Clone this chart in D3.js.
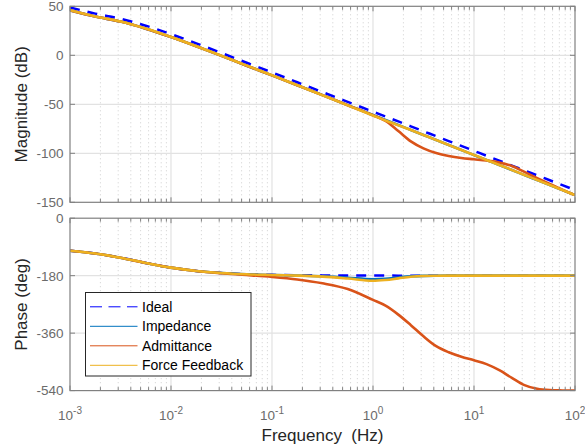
<!DOCTYPE html>
<html><head><meta charset="utf-8">
<script src="https://cdn.jsdelivr.net/npm/d3@7"></script>
<style>
body{margin:0;background:#fff}
svg{display:block}
text{font-family:"Liberation Sans",Arial,Helvetica,sans-serif}
</style>
</head><body>
<svg id="chart" width="585" height="448"></svg>
<script>
// ---------- data ----------
const freqs = [0.001, 0.00178, 0.00316, 0.00562, 0.01, 0.0178, 0.0316, 0.0562, 0.1, 0.178, 0.316, 0.562,
  1, 1.33, 1.78, 2.37, 3.16, 4.22, 5.62, 7.5, 10, 13.3, 17.8, 23.7, 31.6, 42.2, 56.2, 75, 100];

const magIdeal = [48.9, 42.5, 37.4, 30.2, 21.6, 12.2, 2.4, -7.6, -17.5, -27.5, -37.5, -47.5,
  -57.5, -62.5, -67.5, -72.5, -77.5, -82.5, -87.5, -92.5, -97.5, -102.5, -107.5, -112.5, -117.5, -122.5, -127.5, -132.5, -137.5];
const magImpedance = [45.9, 39.5, 34.4, 27.2, 18.6, 9.2, -0.6, -10.6, -20.5, -30.5, -40.6, -50.8,
  -61.0, -66.1, -71.1, -76.2, -81.3, -86.4, -91.5, -96.7, -101.8, -106.9, -112.0, -117.1, -122.3, -127.4, -132.5, -137.6, -142.7];
const magAdmittance = [45.9, 39.5, 34.4, 27.2, 18.6, 9.2, -0.6, -10.6, -20.5, -30.5, -40.6, -50.9,
  -61.2, -67.0, -77.3, -87.8, -95.0, -99.8, -102.8, -104.8, -106.1, -107.4, -109.3, -113.0, -119.0, -125.3, -131.3, -137.2, -142.7];
const magForce = [46.0, 39.6, 34.5, 27.3, 18.7, 9.3, -0.5, -10.5, -20.4, -30.5, -40.7, -51.1,
  -61.4, -66.5, -71.4, -76.3, -81.3, -86.4, -91.5, -96.6, -101.7, -106.8, -111.9, -117.0, -122.2, -127.3, -132.4, -137.5, -142.6];

const phaseIdeal = [-102.0, -110.7, -123.9, -140.1, -154.8, -165.2, -171.5, -175.2, -177.3, -178.5, -179.1, -179.5,
  -179.7, -179.8, -179.9, -180, -180, -180, -180, -180, -180, -180, -180, -180, -180, -180, -180, -180, -180];
const phaseImpedance = [-102.0, -110.7, -123.9, -140.1, -154.8, -165.3, -171.7, -175.6, -178.0, -179.5, -182.0, -186.5,
  -191.0, -189.5, -185.5, -182.0, -180.5, -180.1, -180, -180, -180, -180, -180, -180, -180, -180, -180, -180, -180];
const phaseAdmittance = [-102.0, -110.7, -123.9, -140.1, -154.9, -165.6, -172.6, -178.0, -184.0, -192.0, -204.0, -222.0,
  -256.0, -274.0, -302.0, -335.0, -370.0, -401.0, -420.0, -434.0, -445.0, -457.0, -476.0, -500.0, -523.0, -534.5, -538.5, -539.5, -540.0];
const phaseForce = [-102.0, -110.7, -123.9, -140.1, -154.8, -165.3, -171.7, -175.6, -177.8, -179.8, -183.0, -189.0,
  -196.0, -193.5, -188.5, -183.5, -181.0, -180.3, -180, -180, -180, -180, -180, -180, -180, -180, -180, -180, -180];

const seriesNames = ["Ideal", "Impedance", "Admittance", "Force Feedback"];
const seriesColors = ["#0000ff", "#0072bd", "#d95319", "#edb120"];
const magSeries = [magIdeal, magImpedance, magAdmittance, magForce];
const phaseSeries = [phaseIdeal, phaseImpedance, phaseAdmittance, phaseForce];

const xTickExponents = [-3, -2, -1, 0, 1, 2];
const magTicks = [50, 0, -50, -100, -150];
const phaseTicks = [0, -180, -360, -540];
const xLabel = "Frequency  (Hz)";
const magLabel = "Magnitude (dB)";
const phaseLabel = "Phase (deg)";

// ---------- layout ----------
const svg = d3.select("#chart");
const L = 70, R = 575;
const x = d3.scaleLog().domain([1e-3, 1e2]).range([L, R]);
const panels = [
  {top: 6.3, bottom: 202.3, domain: [-150, 50], ticks: magTicks, series: magSeries, label: magLabel, xLabels: false},
  {top: 218.2, bottom: 390.6, domain: [-540, 0], ticks: phaseTicks, series: phaseSeries, label: phaseLabel, xLabels: true}
];

const tickColor = "#6b6b6b";
const boxColor = "#808080";

panels.forEach((p, pi) => {
  const y = d3.scaleLinear().domain(p.domain).range([p.bottom, p.top]);
  const g = svg.append("g");

  // clip
  const cid = "clip" + pi;
  svg.append("defs").append("clipPath").attr("id", cid)
    .append("rect").attr("x", L).attr("y", p.top).attr("width", R - L).attr("height", p.bottom - p.top);

  // minor grid
  const minors = [];
  for (let d = -3; d < 2; d++) for (let k = 2; k <= 9; k++) minors.push(k * Math.pow(10, d));
  g.append("g").selectAll("line").data(minors).join("line")
    .attr("x1", d => x(d)).attr("x2", d => x(d)).attr("y1", p.top).attr("y2", p.bottom)
    .attr("stroke", "#cfcfcf").attr("stroke-width", 1).attr("stroke-dasharray", "1,3");
  // major grid
  const majors = xTickExponents.slice(1, -1).map(e => Math.pow(10, e));
  g.append("g").selectAll("line").data(majors).join("line")
    .attr("x1", d => x(d)).attr("x2", d => x(d)).attr("y1", p.top).attr("y2", p.bottom)
    .attr("stroke", "#e2e2e2").attr("stroke-width", 1.2);
  g.append("g").selectAll("line").data(p.ticks.filter(t => t !== p.domain[0] && t !== p.domain[1])).join("line")
    .attr("x1", L).attr("x2", R).attr("y1", d => y(d)).attr("y2", d => y(d))
    .attr("stroke", "#e2e2e2").attr("stroke-width", 1.2);

  // curves
  const line = d3.line().x((d, i) => x(freqs[i])).y(d => y(d)).curve(d3.curveMonotoneX);
  const cg = g.append("g").attr("clip-path", `url(#${cid})`);
  p.series.forEach((s, si) => {
    cg.append("path").datum(s).attr("d", line).attr("fill", "none")
      .attr("stroke", seriesColors[si])
      .attr("stroke-width", si === 0 ? 2.5 : 2.6)
      .attr("stroke-dasharray", si === 0 ? "10,8" : null)
      .attr("stroke-linejoin", "round");
  });

  // box
  g.append("rect").attr("x", L).attr("y", p.top).attr("width", R - L).attr("height", p.bottom - p.top)
    .attr("fill", "none").attr("stroke", boxColor).attr("stroke-width", 1.2);

  // x ticks (inside, bottom & top)
  const tk = g.append("g").attr("stroke", boxColor).attr("stroke-width", 1);
  minors.forEach(m => {
    tk.append("line").attr("x1", x(m)).attr("x2", x(m)).attr("y1", p.bottom).attr("y2", p.bottom - 3.5);
    tk.append("line").attr("x1", x(m)).attr("x2", x(m)).attr("y1", p.top).attr("y2", p.top + 3.5);
  });
  xTickExponents.forEach(e => {
    const xv = x(Math.pow(10, e));
    tk.append("line").attr("x1", xv).attr("x2", xv).attr("y1", p.bottom).attr("y2", p.bottom - 5);
    tk.append("line").attr("x1", xv).attr("x2", xv).attr("y1", p.top).attr("y2", p.top + 5);
  });
  // y ticks (inside, left & right)
  p.ticks.forEach(t => {
    tk.append("line").attr("x1", L).attr("x2", L + 5).attr("y1", y(t)).attr("y2", y(t));
    tk.append("line").attr("x1", R).attr("x2", R - 5).attr("y1", y(t)).attr("y2", y(t));
  });

  // y tick labels
  g.append("g").selectAll("text").data(p.ticks).join("text")
    .attr("x", L - 6.5).attr("y", d => y(d)).attr("dy", "0.36em")
    .attr("text-anchor", "end").attr("font-size", 13.5).attr("fill", tickColor)
    .text(d => d);

  // y label
  g.append("text")
    .attr("transform", `translate(26.5,${(p.top + p.bottom) / 2}) rotate(-90)`)
    .attr("text-anchor", "middle").attr("font-size", 17).attr("fill", "#262626")
    .text(p.label);

  // x tick labels
  if (p.xLabels) {
    xTickExponents.forEach(e => {
      const t = g.append("text").attr("x", x(Math.pow(10, e))).attr("y", 420)
        .attr("text-anchor", "middle").attr("font-size", 13.5).attr("fill", tickColor);
      t.append("tspan").text("10");
      t.append("tspan").attr("dy", -6.5).attr("font-size", 10).text(e);
    });
    g.append("text").attr("x", (L + R) / 2).attr("y", 440.5)
      .attr("text-anchor", "middle").attr("font-size", 17).attr("fill", "#262626")
      .style("white-space", "pre").text(xLabel);
  }

  // legend in phase panel
  if (pi === 1) {
    const lg = svg.append("g");
    lg.append("rect").attr("x", 85.5).attr("y", 292.5).attr("width", 165.5).attr("height", 83.5)
      .attr("fill", "#fff").attr("stroke", "#262626").attr("stroke-width", 1);
    const rowY = [306.8, 326.3, 345.8, 365.3];
    seriesNames.forEach((n, i) => {
      lg.append("line").attr("x1", 90).attr("x2", 137.5).attr("y1", rowY[i]).attr("y2", rowY[i])
        .attr("stroke", seriesColors[i]).attr("stroke-width", 1)
        .attr("stroke-dasharray", i === 0 ? "12,6.5" : null);
      lg.append("text").attr("x", 142).attr("y", rowY[i]).attr("dy", "0.36em")
        .attr("font-size", 14).attr("fill", "#000").text(n);
    });
  }
});
</script>
</body></html>
